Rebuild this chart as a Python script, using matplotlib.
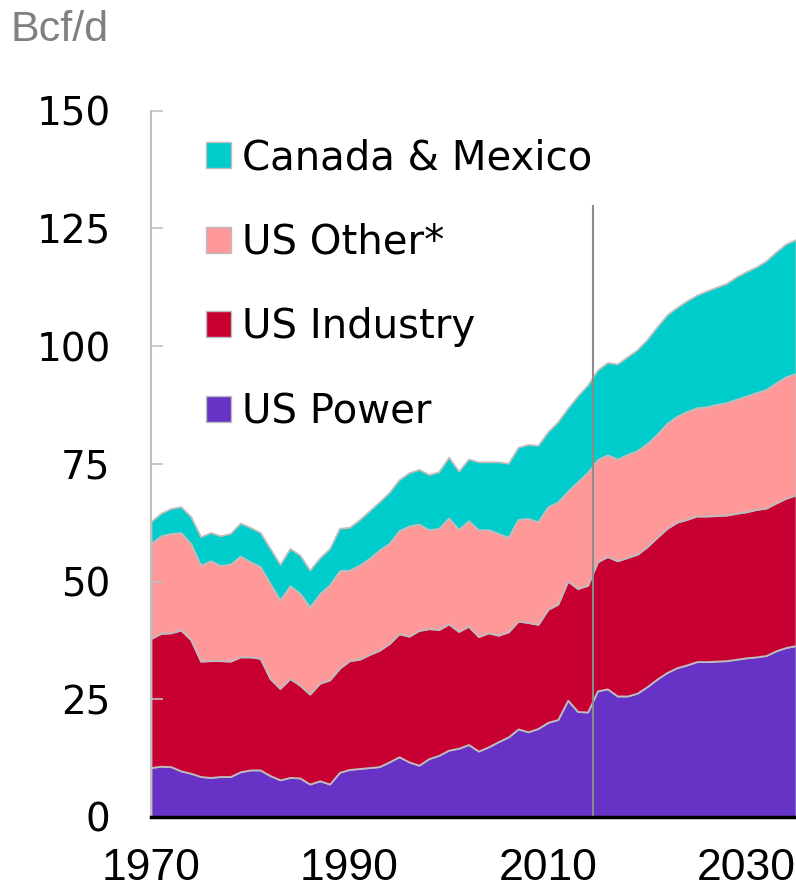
import matplotlib
matplotlib.use('Agg')
import matplotlib.pyplot as plt
from matplotlib.patches import Patch

# gas demand, Bcf/d (history to 2014, outlook after)
years = list(range(1970, 2036))

us_power = [10.5, 10.8, 10.7, 9.8, 9.3, 8.6, 8.4, 8.6, 8.6, 9.6,
            10.0, 10.0, 8.8, 7.9, 8.4, 8.3, 7.0, 7.7, 7.0, 9.5,
            10.1, 10.3, 10.5, 10.7, 11.7, 12.8, 11.7, 11.0, 12.4, 13.1,
            14.2, 14.6, 15.4, 14.0, 14.9, 16.0, 17.0, 18.7, 18.1, 18.8,
            20.1, 20.7, 24.8, 22.4, 22.3, 26.8, 27.2, 25.7, 25.7, 26.3,
            27.7, 29.3, 30.7, 31.7, 32.3, 33.0, 33.0, 33.1, 33.2, 33.5,
            33.8, 34.0, 34.3, 35.3, 36.0, 36.4]

us_industry = [27.4, 28.2, 28.4, 29.9, 28.4, 24.5, 24.8, 24.6, 24.5, 24.4,
               24.0, 23.7, 20.6, 19.4, 21.0, 19.7, 19.1, 20.7, 22.1, 22.1,
               23.1, 23.2, 24.0, 24.7, 25.1, 26.1, 26.7, 28.6, 27.6, 26.7,
               26.8, 24.8, 25.1, 24.3, 24.2, 22.6, 22.3, 22.9, 23.2, 22.1,
               24.0, 24.5, 25.3, 26.1, 26.9, 27.4, 28.1, 28.7, 29.4, 29.5,
               29.7, 30.1, 30.6, 30.9, 30.9, 30.9, 30.9, 30.9, 30.9, 31.0,
               31.0, 31.3, 31.3, 31.4, 31.7, 32.0]

us_other = [20.2, 20.7, 21.1, 20.7, 20.4, 20.4, 21.2, 20.2, 20.6, 21.4,
            20.2, 19.5, 20.2, 18.8, 19.7, 19.5, 18.5, 19.0, 20.2, 20.7,
            19.2, 20.0, 20.4, 21.3, 21.3, 21.9, 23.4, 22.6, 21.0, 21.5,
            22.5, 21.7, 22.4, 22.7, 21.9, 21.6, 20.1, 21.6, 22.1, 21.8,
            21.8, 21.7, 19.1, 22.7, 24.0, 21.7, 21.6, 21.6, 21.9, 22.0,
            21.9, 21.9, 22.3, 22.5, 22.9, 23.0, 23.2, 23.6, 23.9, 24.2,
            24.6, 24.8, 25.2, 25.5, 25.8, 25.8]

canada_mexico = [4.6, 4.8, 5.3, 5.5, 5.7, 6.0, 6.0, 6.3, 6.5, 7.0,
                 7.3, 7.2, 7.4, 7.5, 7.9, 8.1, 7.8, 7.6, 7.7, 9.0,
                 9.1, 9.6, 10.1, 10.2, 10.8, 10.8, 11.3, 11.6, 11.7, 12.0,
                 12.9, 12.3, 13.1, 14.4, 14.4, 15.2, 15.7, 15.3, 15.7, 16.2,
                 15.9, 17.0, 17.6, 18.2, 18.5, 19.0, 19.6, 20.2, 20.7, 21.4,
                 22.1, 22.8, 23.0, 23.1, 23.5, 23.9, 24.6, 24.9, 25.3, 26.0,
                 26.4, 26.7, 27.3, 27.8, 28.2, 28.4]

labels = ['US Power', 'US Industry', 'US Other*', 'Canada & Mexico']
colors = ['#6633c6', '#c80032', '#ff9999', '#00cccc']
edge = '#bdbdbd'
narrow = ['Liberation Sans', 'DejaVu Sans']

fig = plt.figure(figsize=(7.96, 8.89), dpi=100)
ax = fig.add_axes([151 / 796, 72 / 889, 645 / 796, 706.5 / 889])

ax.stackplot(years, us_power, us_industry, us_other, canada_mexico,
             colors=colors, edgecolor=edge, linewidth=1.3)
ax.vlines(2014.5, 0, 130, color='#8c8c8c', linewidth=1.5, zorder=5)

ax.set_xlim(1970, 2035)
ax.set_ylim(0, 150)

for s in ['top', 'right']:
    ax.spines[s].set_visible(False)
ax.spines['left'].set_color('#c0c0c0')
ax.spines['left'].set_linewidth(1.5)
ax.spines['bottom'].set_color('black')
ax.spines['bottom'].set_linewidth(2.5)
ax.spines['bottom'].set_zorder(6)

ax.set_yticks(range(0, 151, 25))
ax.tick_params(axis='y', direction='in', length=8.5, width=1.2,
               color='#c0c0c0', pad=29, labelsize=28)
ax.set_xticks([1970, 1990, 2010, 2030])
ax.tick_params(axis='x', length=0, pad=22, labelsize=32)
for lbl in ax.get_xticklabels():
    lbl.set_fontfamily(narrow)

fig.text(10 / 796, 1 - 10 / 889, 'Bcf/d', ha='left', va='top',
         color='#808080', fontsize=31, family=narrow)

handles = [Patch(facecolor=c, edgecolor=edge, linewidth=1) for c in colors]
ax.legend(handles[::-1], labels[::-1], loc='upper left',
          bbox_to_anchor=(0.086, 0.961), frameon=False, fontsize=29,
          handlelength=0.62, handleheight=0.62, handletextpad=0.25,
          labelspacing=1.11, borderaxespad=0, borderpad=0)

fig.savefig('out.png', dpi=100)
